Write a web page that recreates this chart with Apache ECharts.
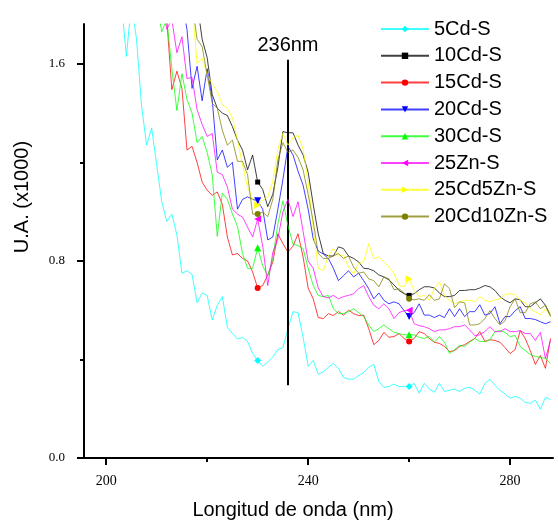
<!DOCTYPE html>
<html>
<head>
<meta charset="utf-8">
<script src="https://cdn.jsdelivr.net/npm/echarts@6/dist/echarts.min.js"></script>
<style>
  html, body { margin: 0; padding: 0; background: #fff; }
  #chart { width: 558px; height: 525px; }
</style>
</head>
<body>
<div id="chart"></div>
<script>
// Absorbance spectra (x1000), sampled every 1 nm from each series' start wavelength
const start5Cd = 203;
const abs5Cd = [1.85, 1.63, 1.85, 1.70, 1.43, 1.27, 1.34, 1.19, 1.04, 0.96, 0.99, 0.905, 0.75, 0.76, 0.745, 0.63, 0.67, 0.66, 0.56, 0.62, 0.655, 0.53, 0.505, 0.483, 0.49, 0.473, 0.424, 0.396, 0.372, 0.39, 0.41, 0.44, 0.448, 0.525, 0.594, 0.59, 0.49, 0.372, 0.396, 0.34, 0.35, 0.368, 0.384, 0.364, 0.327, 0.32, 0.32, 0.335, 0.347, 0.368, 0.38, 0.31, 0.287, 0.29, 0.30, 0.29, 0.29, 0.29, 0.303, 0.263, 0.303, 0.28, 0.267, 0.303, 0.27, 0.275, 0.28, 0.27, 0.283, 0.287, 0.275, 0.26, 0.303, 0.32, 0.295, 0.275, 0.26, 0.243, 0.25, 0.243, 0.226, 0.222, 0.235, 0.198, 0.246, 0.238];

const start10Cd = 218;
const abs10Cd = [1.85, 1.70, 1.625, 1.475, 1.42, 1.40, 1.39, 1.345, 1.29, 1.25, 1.17, 1.23, 1.12, 1.09, 1.02, 1.07, 1.18, 1.325, 1.32, 1.32, 1.27, 1.23, 1.16, 1.03, 0.91, 0.83, 0.82, 0.82, 0.857, 0.85, 0.82, 0.81, 0.796, 0.77, 0.768, 0.76, 0.743, 0.735, 0.723, 0.703, 0.68, 0.667, 0.66, 0.667, 0.683, 0.695, 0.695, 0.69, 0.67, 0.655, 0.655, 0.66, 0.68, 0.68, 0.683, 0.683, 0.69, 0.70, 0.695, 0.68, 0.655, 0.64, 0.63, 0.646, 0.642, 0.614, 0.614, 0.63, 0.646, 0.62, 0.574];

const start15Cd = 211;
const abs15Cd = [1.90, 1.78, 1.495, 1.57, 1.50, 1.25, 1.265, 1.20, 1.12, 1.087, 1.066, 1.08, 1.03, 0.897, 0.824, 0.83, 0.81, 0.80, 0.755, 0.69, 0.70, 0.743, 0.795, 0.91, 0.87, 0.836, 0.86, 0.91, 0.816, 0.69, 0.646, 0.57, 0.566, 0.586, 0.578, 0.594, 0.58, 0.60, 0.586, 0.578, 0.58, 0.525, 0.46, 0.477, 0.51, 0.49, 0.493, 0.505, 0.485, 0.473, 0.485, 0.513, 0.505, 0.485, 0.47, 0.465, 0.453, 0.432, 0.436, 0.453, 0.46, 0.473, 0.485, 0.513, 0.473, 0.48, 0.477, 0.47, 0.448, 0.424, 0.44, 0.517, 0.485, 0.436, 0.38, 0.416, 0.364, 0.485];

const start20Cd = 215;
const abs20Cd = [1.85, 1.74, 1.50, 1.59, 1.45, 1.58, 1.455, 1.21, 1.25, 1.18, 1.20, 1.01, 1.05, 1.06, 1.05, 1.044, 1.01, 0.885, 0.897, 1.01, 1.13, 1.265, 1.23, 1.164, 1.107, 1.01, 0.89, 0.84, 0.828, 0.81, 0.77, 0.72, 0.74, 0.76, 0.735, 0.75, 0.72, 0.687, 0.646, 0.67, 0.64, 0.626, 0.634, 0.626, 0.598, 0.574, 0.59, 0.626, 0.58, 0.58, 0.57, 0.58, 0.57, 0.606, 0.574, 0.606, 0.574, 0.594, 0.594, 0.622, 0.58, 0.586, 0.614, 0.545, 0.574, 0.574, 0.598, 0.614, 0.566, 0.566, 0.562, 0.553, 0.545, 0.553];

const start30Cd = 210;
const abs30Cd = [1.85, 1.73, 1.78, 1.58, 1.41, 1.56, 1.455, 1.40, 1.28, 1.305, 1.24, 1.15, 0.90, 1.075, 1.05, 0.99, 0.94, 0.83, 0.77, 0.77, 0.853, 0.78, 0.74, 0.81, 0.95, 1.044, 0.943, 0.869, 0.862, 0.85, 0.77, 0.70, 0.66, 0.655, 0.66, 0.606, 0.586, 0.586, 0.594, 0.606, 0.59, 0.574, 0.54, 0.513, 0.525, 0.54, 0.525, 0.51, 0.505, 0.50, 0.50, 0.50, 0.49, 0.485, 0.493, 0.47, 0.493, 0.47, 0.424, 0.44, 0.457, 0.453, 0.47, 0.485, 0.473, 0.473, 0.48, 0.513, 0.517, 0.51, 0.493, 0.497, 0.453, 0.436, 0.42, 0.412, 0.408, 0.404, 0.384];

const start25Zn = 211;
const abs25Zn = [1.85, 1.74, 1.78, 1.645, 1.71, 1.54, 1.545, 1.414, 1.354, 1.305, 1.317, 1.16, 1.15, 1.10, 1.01, 0.99, 0.978, 0.937, 0.897, 0.97, 0.86, 0.70, 0.835, 0.89, 1.00, 1.05, 0.98, 1.04, 0.92, 0.80, 0.77, 0.69, 0.655, 0.65, 0.66, 0.646, 0.655, 0.66, 0.667, 0.687, 0.70, 0.655, 0.62, 0.606, 0.626, 0.606, 0.566, 0.59, 0.598, 0.60, 0.545, 0.537, 0.533, 0.525, 0.513, 0.52, 0.52, 0.525, 0.533, 0.533, 0.54, 0.52, 0.497, 0.50, 0.513, 0.533, 0.513, 0.513, 0.525, 0.513, 0.513, 0.517, 0.505, 0.505, 0.477, 0.51, 0.404, 0.477];

const start25Cd5Zn = 217;
const abs25Cd5Zn = [1.85, 1.60, 1.624, 1.555, 1.52, 1.487, 1.434, 1.42, 1.38, 1.29, 1.19, 1.10, 1.05, 1.026, 1.046, 1.06, 1.123, 1.253, 1.317, 1.27, 1.30, 1.31, 1.253, 1.12, 0.93, 0.77, 0.76, 0.82, 0.85, 0.82, 0.824, 0.775, 0.747, 0.79, 0.796, 0.87, 0.81, 0.816, 0.796, 0.775, 0.75, 0.70, 0.695, 0.727, 0.68, 0.655, 0.66, 0.64, 0.687, 0.715, 0.66, 0.64, 0.626, 0.634, 0.64, 0.64, 0.634, 0.655, 0.64, 0.634, 0.642, 0.646, 0.663, 0.667, 0.663, 0.64, 0.63, 0.606, 0.594, 0.582, 0.606, 0.574];

const start20Cd10Zn = 217;
const abs20Cd10Zn = [1.85, 1.70, 1.67, 1.555, 1.44, 1.42, 1.33, 1.27, 1.29, 1.204, 1.204, 1.15, 0.99, 0.99, 0.998, 0.98, 1.05, 1.21, 1.28, 1.24, 1.25, 1.22, 1.17, 1.07, 0.96, 0.83, 0.81, 0.81, 0.82, 0.83, 0.81, 0.82, 0.775, 0.75, 0.755, 0.727, 0.72, 0.695, 0.735, 0.727, 0.683, 0.687, 0.67, 0.646, 0.642, 0.646, 0.64, 0.663, 0.64, 0.646, 0.707, 0.687, 0.61, 0.634, 0.63, 0.54, 0.54, 0.545, 0.566, 0.598, 0.566, 0.54, 0.557, 0.614, 0.646, 0.59, 0.59, 0.626, 0.634, 0.606, 0.62, 0.582];

// Wavelengths carrying a marker on every curve
const markerNm = [230, 260];
// Reference wavelength drawn as a vertical line
const peakNm = 236;
const peakSpan = [0.295, 1.616];

// Axis ticks and labels
const xMajorTicks = [200, 240, 280];
const xMinorTicks = [220, 260];
const yMajorTicks = [0.0, 0.8, 1.6];
const yMinorTicks = [0.4, 1.2];

const seriesDefs = [
  { name: '5Cd-S',       start: start5Cd,       values: abs5Cd,       color: '#00FFFF', symbol: 'diamond',  rotate: 0,   size: 7 },
  { name: '10Cd-S',      start: start10Cd,      values: abs10Cd,      color: '#000000', symbol: 'rect',     rotate: 0,   size: 5 },
  { name: '15Cd-S',      start: start15Cd,      values: abs15Cd,      color: '#FF0000', symbol: 'circle',   rotate: 0,   size: 6 },
  { name: '20Cd-S',      start: start20Cd,      values: abs20Cd,      color: '#0000FF', symbol: 'triangle', rotate: 180, size: 7 },
  { name: '30Cd-S',      start: start30Cd,      values: abs30Cd,      color: '#00FF00', symbol: 'triangle', rotate: 0,   size: 7 },
  { name: '25Zn-S',      start: start25Zn,      values: abs25Zn,      color: '#FF00FF', symbol: 'triangle', rotate: 90,  size: 7 },
  { name: '25Cd5Zn-S',   start: start25Cd5Zn,   values: abs25Cd5Zn,   color: '#FFFF00', symbol: 'triangle', rotate: -90, size: 7 },
  { name: '20Cd10Zn-S',  start: start20Cd10Zn,  values: abs20Cd10Zn,  color: '#808000', symbol: 'circle',   rotate: 0,   size: 6 }
];

const labelFont = 'Liberation Serif';
const textFont = 'Liberation Sans';

const series = seriesDefs.map(function (def, idx) {
  const data = def.values.map(function (v, i) { return [def.start + i, v]; });
  const s = {
    name: def.name,
    type: 'line',
    data: data,
    xAxisIndex: 0,
    yAxisIndex: 0,
    color: def.color,
    lineStyle: { color: def.color, width: 1, opacity: 0.75 },
    itemStyle: { color: def.color },
    symbol: def.symbol,
    symbolRotate: def.rotate,
    showSymbol: true,
    showAllSymbol: true,
    symbolSize: function (value) {
      return markerNm.indexOf(value[0]) >= 0 ? def.size : 0;
    },
    clip: true,
    silent: true,
    z: 2 + idx
  };
  if (idx === 0) {
    s.markLine = {
      silent: true,
      symbol: ['none', 'none'],
      animation: false,
      lineStyle: { color: '#000', width: 2, type: 'solid', opacity: 1 },
      label: {
        show: true,
        position: 'end',
        distance: 4,
        formatter: peakNm + 'nm',
        color: '#000',
        fontFamily: textFont,
        fontSize: 20
      },
      data: [[{ coord: [peakNm, peakSpan[0]] }, { coord: [peakNm, peakSpan[1]] }]]
    };
  }
  return s;
});

const chart = echarts.init(document.getElementById('chart'), null, { renderer: 'canvas' });
chart.setOption({
  animation: false,
  backgroundColor: '#fff',
  grid: { left: 84, right: 5, top: 24, bottom: 65, containLabel: false },
  legend: {
    orient: 'vertical',
    left: 375,
    top: 14,
    itemWidth: 48,
    itemHeight: 8,
    itemGap: 6.8,
    selectedMode: false,
    textStyle: { fontFamily: textFont, fontSize: 20, color: '#000' },
    data: seriesDefs.map(function (d) { return d.name; })
  },
  xAxis: [
    {
      type: 'value',
      min: 195.6,
      max: 288.5,
      position: 'bottom',
      name: 'Longitud de onda (nm)',
      nameLocation: 'middle',
      nameGap: 42,
      nameTextStyle: { fontFamily: textFont, fontSize: 20, color: '#000', padding: [0, 51, 0, 0] },
      axisLine: { show: true, onZero: false, lineStyle: { color: '#000', width: 2 } },
      axisTick: { show: true, inside: false, length: 7, customValues: xMajorTicks, lineStyle: { color: '#000', width: 2 } },
      axisLabel: { show: true, margin: 16, customValues: xMajorTicks, fontFamily: labelFont, fontSize: 14, color: '#000' },
      splitLine: { show: false }
    },
    {
      type: 'value',
      min: 195.6,
      max: 288.5,
      position: 'bottom',
      axisLine: { show: false },
      axisTick: { show: true, inside: false, length: 4, customValues: xMinorTicks, lineStyle: { color: '#000', width: 2 } },
      axisLabel: { show: false },
      splitLine: { show: false }
    }
  ],
  yAxis: [
    {
      type: 'value',
      min: 0,
      max: 1.7616,
      position: 'left',
      name: 'U.A. (x1000)',
      nameLocation: 'middle',
      nameGap: 52,
      nameTextStyle: { fontFamily: textFont, fontSize: 20, color: '#000', padding: [0, 0, 0, 88] },
      axisLine: { show: true, onZero: false, lineStyle: { color: '#000', width: 2 } },
      axisTick: { show: true, inside: false, length: 7, customValues: yMajorTicks, lineStyle: { color: '#000', width: 2 } },
      axisLabel: {
        show: true, margin: 19, customValues: yMajorTicks,
        fontFamily: labelFont, fontSize: 13, color: '#000',
        formatter: function (v) { return v.toFixed(1); }
      },
      splitLine: { show: false }
    },
    {
      type: 'value',
      min: 0,
      max: 1.7616,
      position: 'left',
      axisLine: { show: false },
      axisTick: { show: true, inside: false, length: 4, customValues: yMinorTicks, lineStyle: { color: '#000', width: 2 } },
      axisLabel: { show: false },
      splitLine: { show: false }
    }
  ],
  series: series
});
</script>
</body>
</html>
